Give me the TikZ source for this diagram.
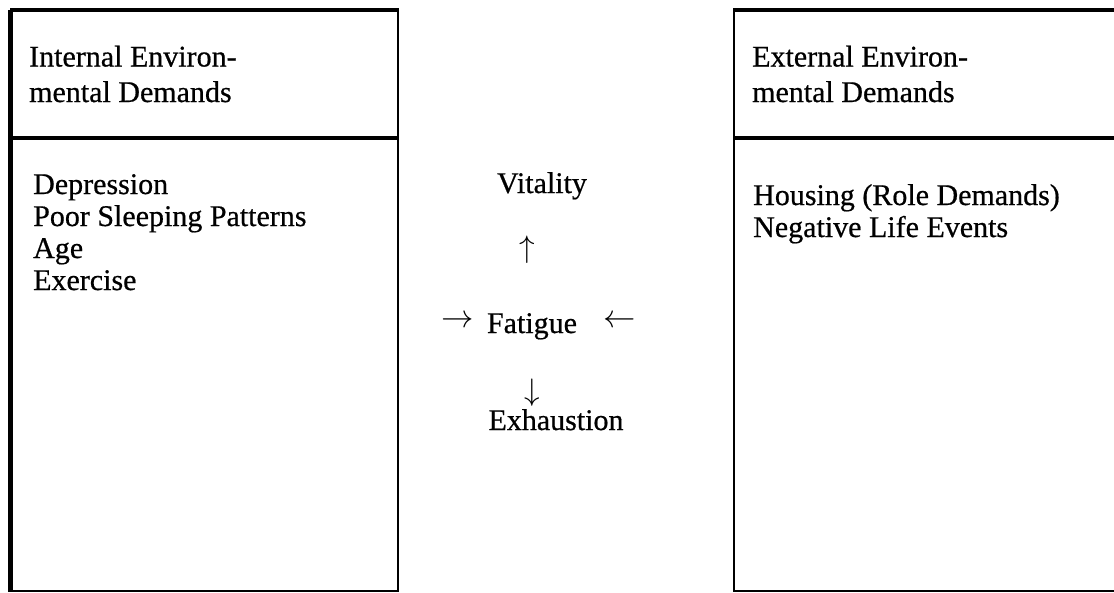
\documentclass[tikz,border=0pt]{standalone}
\usepackage{fontspec}
\setmainfont{Liberation Serif}
\newfontfamily\scanfont{Liberation Serif}[FakeBold=0.6]
\usetikzlibrary{positioning}

\begin{document}
\begin{tikzpicture}[x=1pt, y=-1pt,
    panel/.style={
        rectangle, draw, anchor=north west,
        minimum width=387pt, inner sep=0pt,
        line width=2pt
    },
    rule/.style={line width=4.5pt},
    heading/.style={anchor=base west, align=left, inner sep=0pt, font=\scanfont\fontsize{30}{35.5}\selectfont},
    listing/.style={anchor=base west, align=left, inner sep=0pt, font=\scanfont\fontsize{30}{32}\selectfont},
    term/.style={anchor=base, inner sep=0pt, font=\scanfont\fontsize{30}{32}\selectfont},
    sign/.style={inner sep=0pt, font=\fontsize{29.5}{32}\selectfont}
]
  \useasboundingbox (0,0) rectangle (1114,592);

  % Boxes
  \node[panel, minimum height=126pt] (innerhead) at (10,10) {};
  \node[panel, minimum height=452pt] (innerbody) at (innerhead.south west) {};
  \node[panel, minimum height=126pt, minimum width=400pt] (outerhead) at (733,10) {};
  \node[panel, minimum height=452pt, minimum width=400pt] (outerbody) at (outerhead.south west) {};

  \draw[rule] (innerhead.north west) -- (innerhead.north east);
  \draw[rule] (innerbody.north west) -- (innerbody.north east);
  \draw[rule] (outerhead.north west) -- (outerhead.north east);
  \draw[rule] (outerbody.north west) -- (outerbody.north east);
  \draw[line width=5pt] (innerhead.north west) -- (innerbody.south west);

  % Texts in the boxes (base = last line)
  \node[heading] (innertitle) at (29,102) {Internal Environ-\\mental Demands};
  \node[listing] (innerlist) at (33,290) {Depression\\Poor Sleeping Patterns\\Age\\Exercise};
  \node[heading] (outertitle) at (752,102) {External Environ-\\mental Demands};
  \node[listing] (outerlist) at (753,237) {Housing (Role Demands)\\Negative Life Events};

  % Middle column
  \node[term] (fatigue) at (532,333) {Fatigue};
  \node[term] (vitality) at (542,193) {Vitality};
  \node[term] (exhaustion) at (556,430) {Exhaustion};
  \node[sign] (up) at (527,250) {\scalebox{1.25}{$\uparrow$}};
  \node[sign] (down) at (532,393) {\scalebox{1.25}{$\downarrow$}};
  \node[sign] (fromleft) at (458,322) {\scalebox{1.3}{$\rightarrow$}};
  \node[sign] (fromright) at (620,322) {\scalebox{1.3}{$\leftarrow$}};

\end{tikzpicture}
\end{document}
